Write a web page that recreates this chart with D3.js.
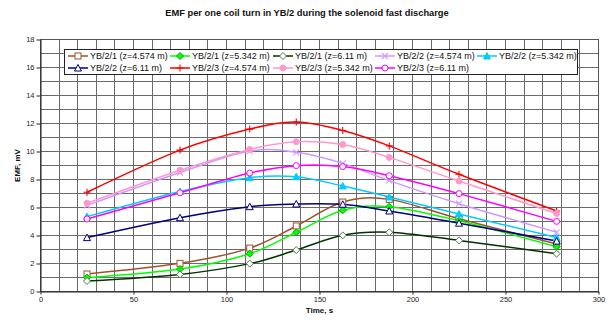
<!DOCTYPE html>
<html><head><meta charset="utf-8">
<script src="https://cdn.jsdelivr.net/npm/d3@7"></script>
<style>body{margin:0;background:#fff}svg{display:block}text{font-family:"Liberation Sans",Arial,sans-serif}</style>
</head><body><svg id="c" width="613" height="321"></svg>
<script>
const times = [25, 75, 112.5, 137.5, 162.5, 187.5, 225, 277.5];
const seriesNames = ["YB/2/1 (z=4.574 m)","YB/2/1 (z=5.342 m)","YB/2/1 (z=6.11 m)","YB/2/2 (z=4.574 m)","YB/2/2 (z=5.342 m)","YB/2/2 (z=6.11 m)","YB/2/3 (z=4.574 m)","YB/2/3 (z=5.342 m)","YB/2/3 (z=6.11 m)"];
const yb21_4574 = [1.25, 2.01, 3.1, 4.68, 6.39, 6.58, 5.2, 3.39];
const yb21_5342 = [0.99, 1.6, 2.7, 4.23, 5.8, 6.06, 5.05, 3.2];
const yb21_611  = [0.75, 1.22, 1.99, 2.96, 4.01, 4.23, 3.65, 2.7];
const yb22_4574 = [6.15, 8.5, 10.03, 9.94, 9.15, 7.92, 6.27, 4.23];
const yb22_5342 = [5.35, 7.15, 8.13, 8.2, 7.54, 6.75, 5.54, 3.85];
const yb22_611  = [3.85, 5.27, 6.06, 6.25, 6.23, 5.75, 4.88, 3.6];
const yb23_4574 = [7.09, 10.1, 11.6, 12.1, 11.5, 10.4, 8.37, 5.75];
const yb23_5342 = [6.3, 8.66, 10.15, 10.7, 10.5, 9.58, 7.89, 5.57];
const yb23_611  = [5.18, 7.05, 8.46, 8.99, 8.92, 8.27, 6.99, 5.01];
const xTicks = [0, 50, 100, 150, 200, 250, 300];
const yTicks = [0, 2, 4, 6, 8, 10, 12, 14, 16, 18];
const titleText = "EMF per one coil turn in YB/2 during the solenoid fast discharge";
const xTitle = "Time, s", yTitle = "EMF, mV";

const values = [yb21_4574, yb21_5342, yb21_611, yb22_4574, yb22_5342, yb22_611, yb23_4574, yb23_5342, yb23_611];
const styles = [
  {c:"#A0522D", m:"square", fill:"#fff"},
  {c:"#00FF00", m:"diamond", fill:"#00FF00", mc:"#00B000"},
  {c:"#003300", m:"diamond", fill:"#fff", mc:"#557755"},
  {c:"#CC99FF", m:"x", fill:"none"},
  {c:"#00CCFF", m:"triangle", fill:"#00CCFF"},
  {c:"#000080", m:"triangle", fill:"#fff"},
  {c:"#FF0000", m:"plus", fill:"none"},
  {c:"#FF99CC", m:"circle", fill:"#FF99CC"},
  {c:"#FF00FF", m:"circle", fill:"#fff"}
];

const svg = d3.select("#c");
const x = d3.scaleLinear().domain([0,300]).range([40.5, 598.5]);
const y = d3.scaleLinear().domain([0,18]).range([291.5, 39.5]);
const px = v => Math.round(x(v)-0.5)+0.5;

// grid
const g = svg.append("g");
g.selectAll(".vg").data(d3.range(10, 300, 10)).join("line")
  .attr("x1", d=>px(d)).attr("x2", d=>px(d)).attr("y1", y(18)).attr("y2", y(0))
  .attr("stroke", "#6a6a6a").attr("stroke-width", 1);
g.selectAll(".hg").data(d3.range(1, 18, 1)).join("line")
  .attr("x1", x(0)).attr("x2", x(300)).attr("y1", d=>y(d)).attr("y2", d=>y(d))
  .attr("stroke", "#6a6a6a").attr("stroke-width", 1);
svg.append("rect").attr("x", x(0)).attr("y", y(18)).attr("width", x(300)-x(0)).attr("height", y(0)-y(18))
  .attr("fill","none").attr("stroke","#555");

// axes
const xAxis = d3.axisBottom(x).tickValues(xTicks).tickSize(3).tickSizeOuter(0).tickPadding(2);
const yAxis = d3.axisLeft(y).tickValues(yTicks).tickSize(4).tickSizeOuter(0).tickPadding(2);
const gx = svg.append("g").attr("transform", `translate(0,${y(0)})`).call(xAxis);
const gy = svg.append("g").attr("transform", `translate(${x(0)},0)`).call(yAxis);
[gx, gy].forEach(a => {
  a.select(".domain").attr("stroke", "#222");
  a.selectAll(".tick line").attr("stroke", "#222");
  a.selectAll(".tick text").attr("fill", "#222").style("font-size", "7.5px").style("font-family", '"Liberation Sans",Arial,sans-serif');
});

// series
const line = d3.line().x((d,i)=>x(times[i])).y(d=>y(d)).curve(d3.curveCardinal.tension(0));
function marker(sel, st) {
  const s = 3;
  const mc = st.mc || st.c;
  if (st.m === "square") sel.append("rect").attr("x",-s).attr("y",-s).attr("width",2*s).attr("height",2*s).attr("fill",st.fill).attr("stroke",mc);
  else if (st.m === "diamond") sel.append("path").attr("d",`M0,-3.5L3.5,0L0,3.5L-3.5,0Z`).attr("fill",st.fill).attr("stroke",mc);
  else if (st.m === "triangle") sel.append("path").attr("d",`M0,-3.5L3.5,3L-3.5,3Z`).attr("fill",st.fill).attr("stroke",mc);
  else if (st.m === "circle") sel.append("circle").attr("r",3).attr("fill",st.fill).attr("stroke",mc);
  else if (st.m === "x") sel.append("path").attr("d","M-3,-3L3,3M-3,3L3,-3").attr("stroke",mc).attr("stroke-width",1.1);
  else if (st.m === "plus") sel.append("path").attr("d","M-3.5,0L3.5,0M0,-3.5L0,3.5").attr("stroke",mc).attr("stroke-width",1.1);
}
values.forEach((vals, k) => {
  const st = styles[k];
  svg.append("path").datum(vals).attr("d", line).attr("fill","none").attr("stroke", st.c).attr("stroke-width", 1.5);
});
values.forEach((vals, k) => {
  const st = styles[k];
  vals.forEach((v,i) => {
    marker(svg.append("g").attr("transform", `translate(${x(times[i])},${y(v)})`), st);
  });
});

// legend
const lg = svg.append("g");
lg.append("rect").attr("x",64.5).attr("y",49.5).attr("width",513).attr("height",25).attr("fill","#fff").attr("stroke","#222");
const cols = [68, 170, 273, 375, 477], rows = [56, 68];
seriesNames.forEach((nm, k) => {
  const col = k < 5 ? k : k - 5, row = k < 5 ? 0 : 1;
  const x0 = cols[col], yy = rows[row], st = styles[k];
  lg.append("line").attr("x1",x0).attr("x2",x0+20).attr("y1",yy).attr("y2",yy).attr("stroke",st.c).attr("stroke-width",1.5);
  marker(lg.append("g").attr("transform",`translate(${x0+10},${yy})`), st);
  lg.append("text").attr("x",x0+22).attr("y",yy+3.2).style("font-size","9px").attr("fill","#111").text(nm);
});

// titles
svg.append("text").attr("x", 307).attr("y", 16).attr("text-anchor","middle").style("font-size","9.3px").style("font-weight","bold").attr("fill","#111").text(titleText);
svg.append("text").attr("x", (x(0)+x(300))/2).attr("y", 313).attr("text-anchor","middle").style("font-size","8px").style("font-weight","bold").attr("fill","#111").text(xTitle);
svg.append("text").attr("transform", `translate(20,${(y(0)+y(18))/2}) rotate(-90)`).attr("text-anchor","middle").style("font-size","8px").style("font-weight","bold").attr("fill","#111").text(yTitle);
</script></body></html>
